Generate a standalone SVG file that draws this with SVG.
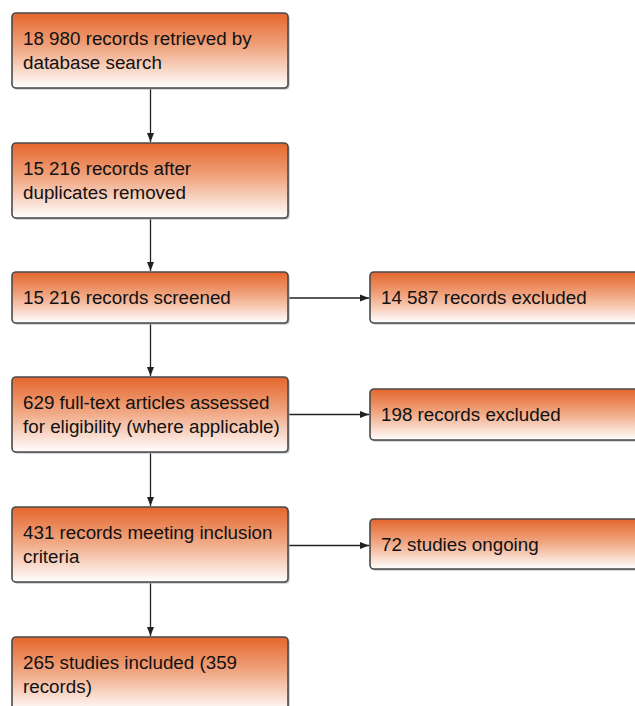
<svg xmlns="http://www.w3.org/2000/svg" width="635" height="706" viewBox="0 0 635 706">
<defs>
<linearGradient id="g" x1="0" y1="0" x2="0" y2="1">
<stop offset="0" stop-color="#e4662c"/>
<stop offset="0.45" stop-color="#f0a47f"/>
<stop offset="1" stop-color="#ffffff"/>
</linearGradient>
<marker id="ah" markerWidth="10" markerHeight="8" refX="9" refY="4" orient="auto" markerUnits="userSpaceOnUse">
<path d="M0,0.5 L9,4 L0,7.5 Z" fill="#222"/>
</marker>
</defs>
<style>
.box{fill:url(#g);stroke:#4a4a4a;stroke-width:1.6}
.sh{fill:#b0b0b0}
.t{font-family:"Liberation Sans",Arial,sans-serif;font-size:18.8px;fill:#111}
.c{stroke:#222;stroke-width:1.3;fill:none;marker-end:url(#ah)}
</style>
<rect width="635" height="706" fill="#ffffff"/>
<g id="connectors">
<line class="c" x1="150.5" y1="89" x2="150.5" y2="142"/>
<line class="c" x1="150.5" y1="219" x2="150.5" y2="271"/>
<line class="c" x1="150.5" y1="324" x2="150.5" y2="376"/>
<line class="c" x1="150.5" y1="453" x2="150.5" y2="506"/>
<line class="c" x1="150.5" y1="583" x2="150.5" y2="636"/>
<line class="c" x1="289" y1="298" x2="369" y2="298"/>
<line class="c" x1="289" y1="414.5" x2="369" y2="414.5"/>
<line class="c" x1="289" y1="545.5" x2="369" y2="545.5"/>
</g>
<g id="n1">
<rect class="sh" x="13.5" y="14.5" width="276" height="75" rx="4"/>
<rect class="box" x="12" y="13" width="276" height="75" rx="4"/>
<text class="t" x="23" y="45">18 980 records retrieved by</text>
<text class="t" x="23" y="69">database search</text>
</g>
<g id="n2">
<rect class="sh" x="13.5" y="144.5" width="276" height="75" rx="4"/>
<rect class="box" x="12" y="143" width="276" height="75" rx="4"/>
<text class="t" x="23" y="175">15 216 records after</text>
<text class="t" x="23" y="199">duplicates removed</text>
</g>
<g id="n3">
<rect class="sh" x="13.5" y="273.5" width="276" height="51" rx="4"/>
<rect class="box" x="12" y="272" width="276" height="51" rx="4"/>
<text class="t" x="23" y="304">15 216 records screened</text>
</g>
<g id="n4">
<rect class="sh" x="13.5" y="378.5" width="276" height="75" rx="4"/>
<rect class="box" x="12" y="377" width="276" height="75" rx="4"/>
<text class="t" x="23" y="409">629 full-text articles assessed</text>
<text class="t" x="23" y="433">for eligibility (where applicable)</text>
</g>
<g id="n5">
<rect class="sh" x="13.5" y="508.5" width="276" height="75" rx="4"/>
<rect class="box" x="12" y="507" width="276" height="75" rx="4"/>
<text class="t" x="23" y="539">431 records meeting inclusion</text>
<text class="t" x="23" y="563">criteria</text>
</g>
<g id="n6">
<rect class="sh" x="13.5" y="638.5" width="276" height="75" rx="4"/>
<rect class="box" x="12" y="637" width="276" height="75" rx="4"/>
<text class="t" x="23" y="669">265 studies included (359</text>
<text class="t" x="23" y="693">records)</text>
</g>
<g id="r1">
<rect class="sh" x="371.5" y="273.5" width="276" height="51" rx="4"/>
<rect class="box" x="370" y="272" width="276" height="51" rx="4"/>
<text class="t" x="381" y="304">14 587 records excluded</text>
</g>
<g id="r2">
<rect class="sh" x="371.5" y="390.5" width="276" height="51" rx="4"/>
<rect class="box" x="370" y="389" width="276" height="51" rx="4"/>
<text class="t" x="381" y="421">198 records excluded</text>
</g>
<g id="r3">
<rect class="sh" x="371.5" y="520.5" width="276" height="50" rx="4"/>
<rect class="box" x="370" y="519" width="276" height="50" rx="4"/>
<text class="t" x="381" y="551">72 studies ongoing</text>
</g>
</svg>
